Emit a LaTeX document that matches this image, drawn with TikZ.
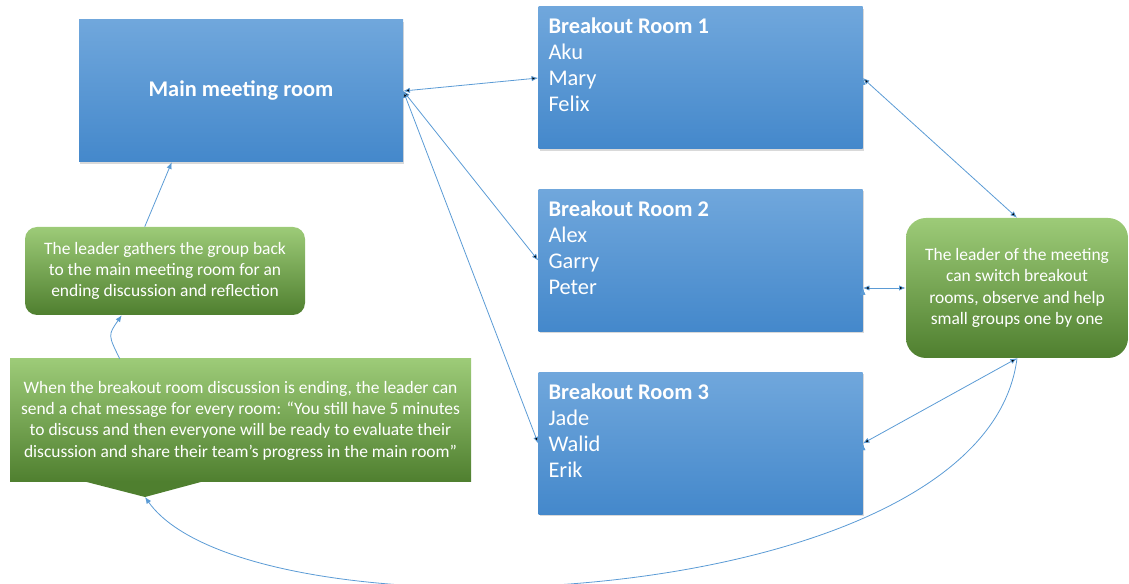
\documentclass[tikz,border=0pt]{standalone}
\usepackage{fontspec}
\setmainfont{Carlito}
\usetikzlibrary{arrows.meta,shadows,calc}

\definecolor{roomtop}{HTML}{70A7DC}
\definecolor{roombot}{HTML}{4488CB}
\definecolor{notetop}{HTML}{9DCB78}
\definecolor{notebot}{HTML}{4F7F2F}
\definecolor{linkblue}{HTML}{5B9BD5}

\begin{document}
\begin{tikzpicture}[x=0.75pt, y=-0.75pt,
	>={Latex[length=5pt,width=4pt]},
	room/.style={rectangle, top color=roomtop, bottom color=roombot,
		minimum width=243pt, minimum height=106.5pt,
		drop shadow={opacity=0.3, shadow xshift=1pt, shadow yshift=-1.2pt}},
	roomtext/.style={anchor=north west, inner sep=0pt, align=left, text=white,
		font=\fontsize{16.8}{19.5}\selectfont},
	note/.style={top color=notetop, bottom color=notebot, text=white, align=center,
		font=\fontsize{13.1}{16}\selectfont},
	link/.style={draw=linkblue, line width=0.6pt}]

	\useasboundingbox (0,0) rectangle (1129,584);

	% rooms
	\node[room, text=white, font=\fontsize{16.8}{19.5}\selectfont\bfseries] (main) at (241,91) {Main meeting room};
	\node[room] (room1) at (700.5,78)    {};
	\node[room] (room2) at (700.5,260.5) {};
	\node[room] (room3) at (700.5,443.5) {};

	\node[roomtext] (names1) at ($(room1.north west)+(10,11)$) {\textbf{Breakout Room 1}\\Aku\\Mary\\Felix};
	\node[roomtext] (names2) at ($(room2.north west)+(10,11)$) {\textbf{Breakout Room 2}\\Alex\\Garry\\Peter};
	\node[roomtext] (names3) at ($(room3.north west)+(10,11)$) {\textbf{Breakout Room 3}\\Jade\\Walid\\Erik};

	% notes
	\node[note, rectangle, rounded corners=9pt, minimum width=210pt, minimum height=66pt] (gather) at (165,271)
		{The leader gathers the group back\\to the main meeting room for an\\ending discussion and reflection};
	\node[note, rectangle, rounded corners=15pt, minimum width=166.5pt, minimum height=105pt] (leader) at (1017,288)
		{The leader of the meeting\\can switch breakout\\rooms, observe and help\\small groups one by one};
	\node[note, rectangle, minimum width=345.75pt, minimum height=92.25pt] (chat) at (240.5,420.5)
		{When the breakout room discussion is ending, the leader can\\send a chat message for every room: “You still have 5 minutes\\to discuss and then everyone will be ready to evaluate their\\discussion and share their team’s progress in the main room”};
	\coordinate (tip) at (145,497);
	\fill[notebot] ($(chat.south west)+(76,-0.5)$) -- (tip) -- ($(chat.south west)+(192,-0.5)$) -- cycle;

	\path [link, <->] (main.east) edge (room1.west)
		edge (room2.west)
		edge (room3.west);
	\path [link, <->] (room1.east) edge (leader.north);
	\path [link, <->] (room2.east |- leader.west) edge (leader.west);
	\path [link, <->] (room3.east) edge (leader.south);
	\draw [link, ->] (leader.south) .. controls (985,616) and (250,645) .. (tip);
	\draw [link, ->] ($(chat.north west)+(110,0)$) .. controls (108,335) .. ($(gather.south west)+(97,0)$);
	\draw [link, ->] ($(gather.north west)+(120,0)$) -- ($(main.south west)+(93,0)$);
\end{tikzpicture}
\end{document}
